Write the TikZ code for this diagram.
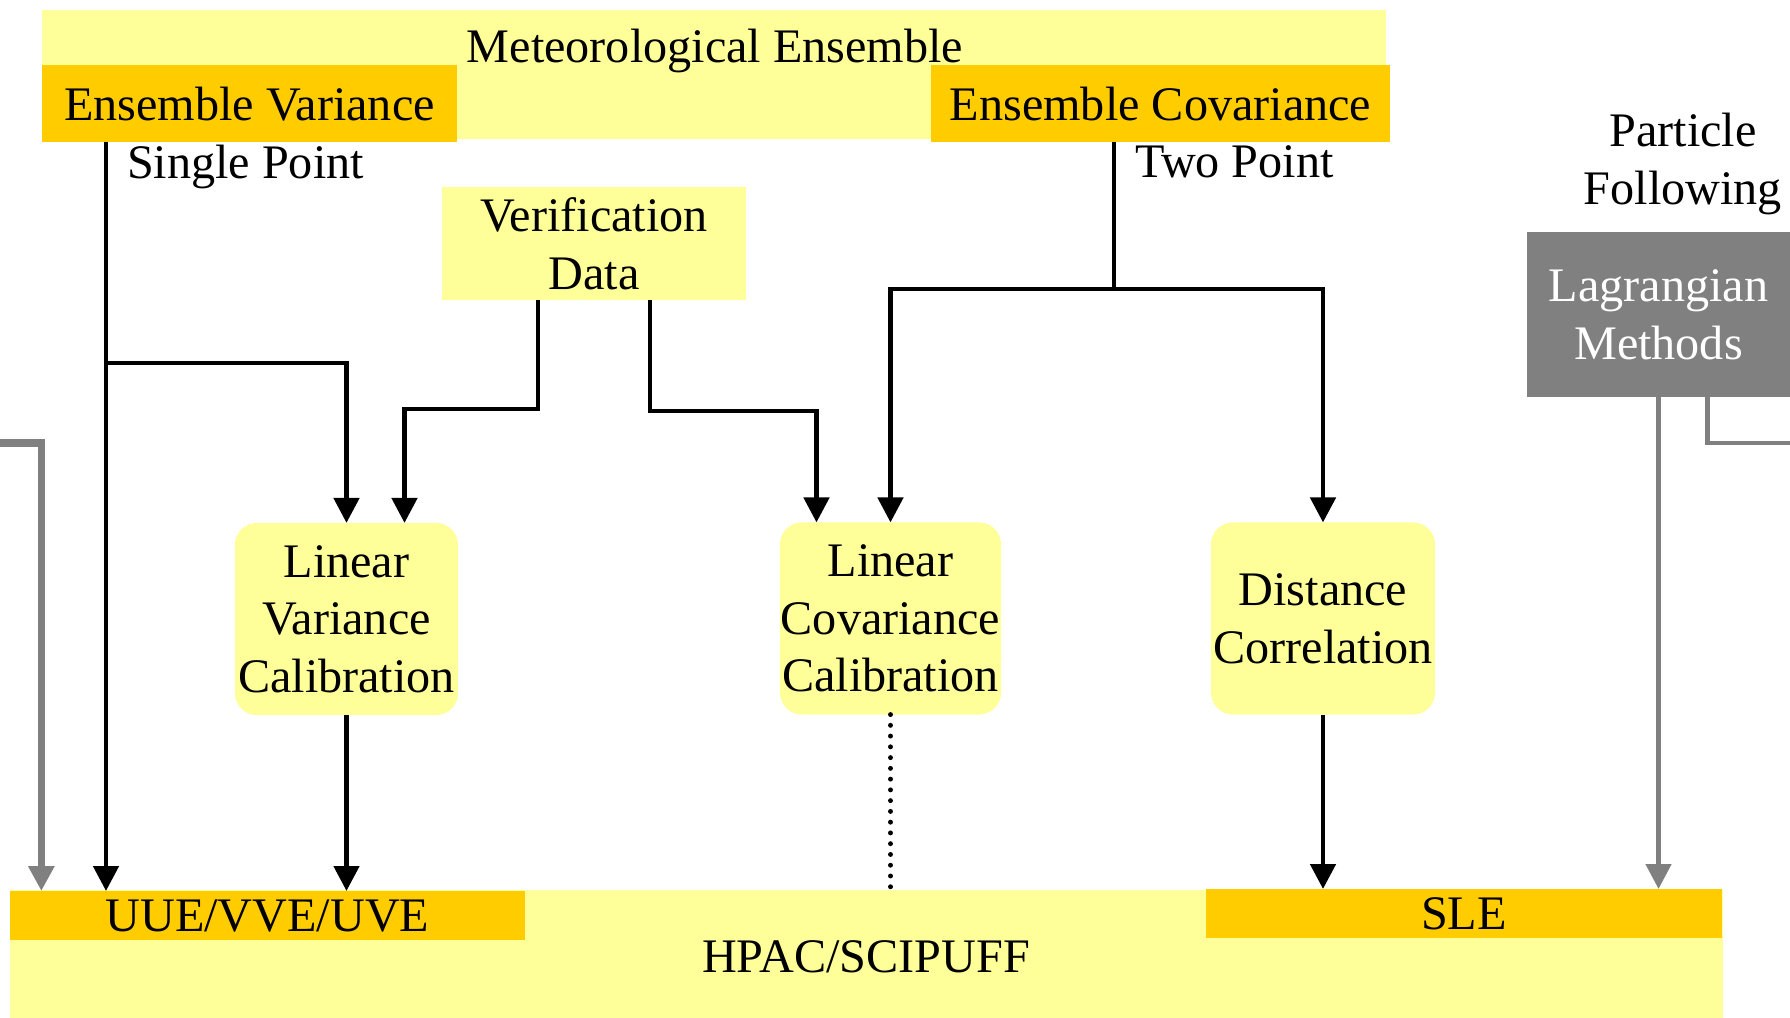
\documentclass[tikz,border=0pt]{standalone}
\usepackage{fontspec}
\setmainfont{Liberation Serif}
\usetikzlibrary{arrows.meta, positioning, calc}
\definecolor{PaleYellow}{HTML}{FFFF99}
\definecolor{Amber}{HTML}{FFCC00}
\definecolor{MidGray}{HTML}{808080}

\begin{document}
\begin{tikzpicture}[
    x=0.01cm, y=-0.01cm,
    font=\fontsize{13.7}{16.4}\selectfont,
    every node/.style={inner sep=0pt, outer sep=0pt},
    band/.style={fill=PaleYellow},
    keybox/.style={fill=Amber, text depth=0pt},
    calib/.style={fill=PaleYellow, rounded corners=0.22cm, align=center, minimum width=2.23cm, minimum height=1.92cm},
    lagr/.style={fill=MidGray, text=white, align=center},
    txt/.style={align=center},
    link/.style={line width=1.35pt, black},
    arr/.style={link, -{Triangle[length=7.1pt, width=7.1pt]}},
    grayline/.style={line width=1.35pt, MidGray},
    grayarr/.style={grayline, -{Triangle[length=7.1pt, width=7.1pt]}},
    dotlink/.style={line width=1.4pt, line cap=round, dash pattern=on 0pt off 3.06pt}
]
\useasboundingbox (0,0) rectangle (1790,1018);

% Ensemble band on top
\node[band, minimum width=13.44cm, minimum height=1.29cm] (met) at (714,74.5) {};
\node[anchor=base] (mettext) at (715,63) {Meteorological Ensemble};
\node[keybox, minimum width=4.15cm, minimum height=0.77cm] (ev) at (249.5,103.5) {Ensemble Variance};
\node[keybox, minimum width=4.59cm, minimum height=0.77cm] (ec) at (1160.5,103.5) {Ensemble Covariance};
\node[anchor=base west] (single) at (127,178) {Single Point};
\node[anchor=base west] (two) at (1135,177) {Two Point};

% Verification data and particle methods
\node[band, txt, minimum width=3.04cm, minimum height=1.13cm] (vd) at (594,243.5) {Verification\\Data};
\node[txt] (pf) at (1683,164) {Particle\\Following};
\node[lagr, minimum width=2.63cm, minimum height=1.65cm] (lm) at (1658.5,314.5) {Lagrangian\\Methods};

% Calibration boxes
\node[calib] (lvc) at (346.5,619) {Linear\\Variance\\Calibration};
\node[calib, minimum width=2.21cm] (lcc) at (890.5,618.5) {Linear\\Covariance\\Calibration};
\node[calib, minimum width=2.24cm] (dc) at (1323,618.5) {Distance\\Correlation};

% HPAC/SCIPUFF band at the bottom
\node[band, minimum width=17.12cm, minimum height=1.28cm] (hpac) at (866,954.5) {};
\node (hpactext) at (866,957) {HPAC/SCIPUFF};
\node[keybox, minimum width=5.14cm, minimum height=0.49cm] (uue) at (267.5,915.5) {UUE/VVE/UVE};
\node[keybox, minimum width=5.16cm, minimum height=0.49cm] (sle) at (1464,913.5) {SLE};

% Bend points and free ends
\coordinate (evsplit) at (106,363);
\coordinate (vdleft) at (538,409);
\coordinate (vdright) at (650,411);
\coordinate (ecsplit) at (1114,289);
\coordinate (leftin) at (0,443);
\coordinate (lmout) at (1790,443);

% Single point path
\draw[arr] (ev.south -| evsplit) -- (uue.north -| evsplit);
\draw[arr] (evsplit) -| (lvc.north);
\draw[arr] (vd.south -| vdleft) -- (vdleft) -| ($(lvc.north)+(58,0)$);
\draw[arr] (lvc.south) -- (lvc.south |- uue.north);

% Two point path
\draw[arr] (vd.south -| vdright) -- (vdright) -| ($(lcc.north)+(-74,0)$);
\draw[link] (ec.south -| ecsplit) -- (ecsplit);
\draw[arr] (ecsplit) -| (lcc.north);
\draw[arr] (ecsplit) -| (dc.north);
\draw[dotlink] (lcc.south) -- (lcc.south |- hpac.north);
\draw[arr] (dc.south) -- (dc.south |- sle.north);

% Gray links
\draw[grayarr, line width=2pt] (leftin) -| ($(uue.north west)+(31,0)$);
\draw[grayarr] (lm.south) -- (lm.south |- sle.north);
\draw[grayline] ($(lm.south)+(49,0)$) |- (lmout);
\end{tikzpicture}
\end{document}
